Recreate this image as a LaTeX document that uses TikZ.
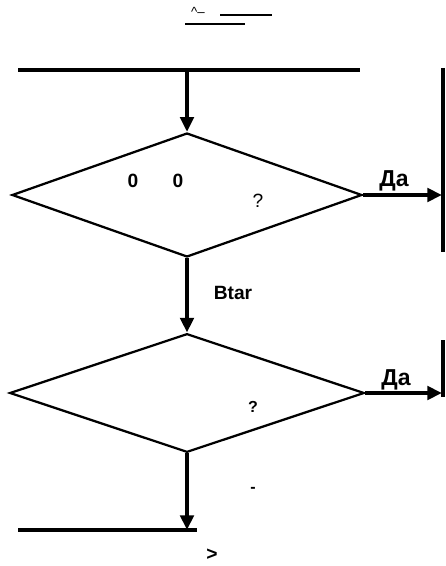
\documentclass[tikz,border=0pt]{standalone}
\usepackage{fontspec}
\setmainfont{Liberation Sans}
\usetikzlibrary{arrows.meta,shapes.geometric}
\tikzset{every picture/.style={line width=0.75pt}}
\tikzset{
  flowline/.style={line width=3pt,-{Triangle[length=11pt,width=10pt]}},
  barline/.style={line width=2.6pt},
  decision/.style={draw,diamond,line width=1.7pt,inner sep=0pt,aspect=2.8},
  lbl/.style={inner sep=0.75pt,font=\bfseries}
}
\begin{document}
\begin{tikzpicture}[x=0.75pt,y=0.75pt,yscale=-1,xscale=1]
\useasboundingbox (0,0) rectangle (445,566);

%Shapes: Diamonds
\node [decision,minimum width=262.5pt,minimum height=93pt] (dA) at (187,195) {};
\node [decision,minimum width=266pt,minimum height=89pt] (dB) at (187,393) {};

%Coordinates
\coordinate (inA) at (187,70);
\coordinate (outB) at (187,530);
\coordinate (yesA) at (442,195);
\coordinate (yesB) at (442,393);

%Straight Lines
\draw [barline] (18,70) -- (360,70) ;
\draw [barline] (18,530) -- (197,530) ;
\draw [barline] (443,68) -- (443,252) ;
\draw [barline] (443,340) -- (443,397) ;
\draw [line width=1.2pt] (220,15) -- (272,15) ;
\draw [line width=1.2pt] (185,24) -- (245,24) ;

%Connectors
\draw [flowline] (inA) -- (dA.north) ;
\draw [flowline] (dA.south) -- (dB.north) ;
\draw [flowline] (dB.south) -- (outB) ;
\draw [flowline] (dA.east) -- (yesA) ;
\draw [flowline] (dB.east) -- (yesB) ;

% Text Node
\node [inner sep=0.75pt,font=\normalsize] (title) at (198,12) {\^{}--};
% Text Node
\node [lbl,font=\bfseries\Large] (zeroA) at (133,181) {0};
% Text Node
\node [lbl,font=\bfseries\Large] (zeroB) at (178,181) {0};
% Text Node
\node [lbl,font=\rmfamily\Large] (askA) at (258,201) {?};
% Text Node
\node [lbl,font=\rmfamily\bfseries\large] (askB) at (253,407) {?};
% Text Node
\node [lbl,font=\bfseries\LARGE] (yesAlbl) at (394,181) {Да};
% Text Node
\node [lbl,font=\bfseries\LARGE] (yesBlbl) at (396,380) {Да};
% Text Node
\node [lbl,font=\bfseries\Large] (noA) at (233,293) {Btar};
% Text Node
\node [lbl,font=\bfseries\large] (dash) at (253,490) {-};
% Text Node
\node [lbl,font=\bfseries\Large] (gt) at (212,555) {>};

\end{tikzpicture}
\end{document}
